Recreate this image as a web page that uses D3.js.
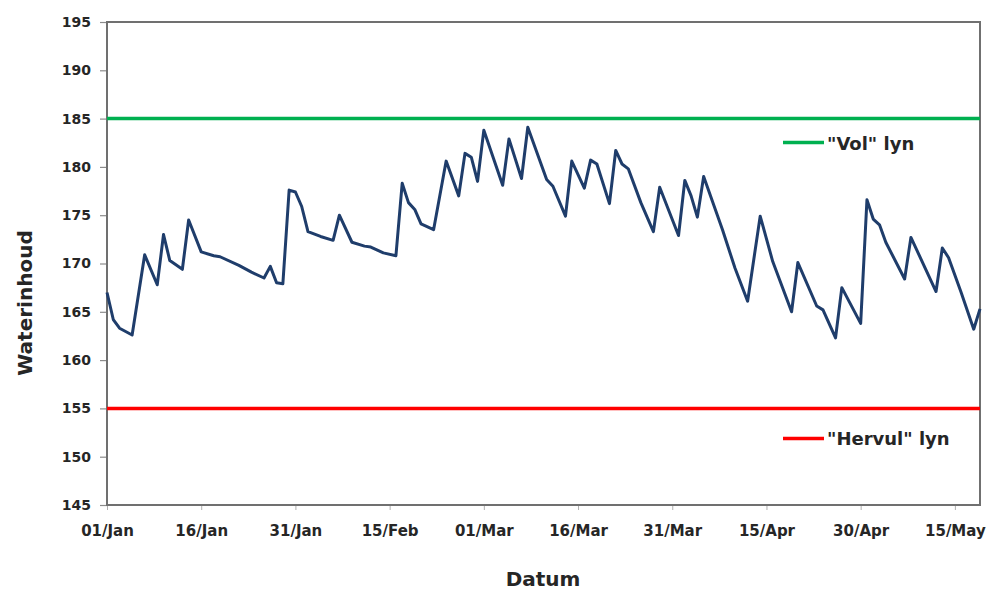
<!DOCTYPE html>
<html>
<head>
<meta charset="utf-8">
<script src="https://cdn.jsdelivr.net/npm/d3@7"></script>
<style>
  html, body { margin: 0; padding: 0; background: #fff; }
  svg text { font-family: "DejaVu Sans", "Liberation Sans", sans-serif; font-weight: bold; fill: #262626; }
</style>
</head>
<body>
<svg id="chart" width="987" height="592"></svg>
<script>
// ---- data ----
const dates = [
  "2012-01-01","2012-01-02","2012-01-03","2012-01-05","2012-01-07","2012-01-09","2012-01-10","2012-01-11",
  "2012-01-13","2012-01-14","2012-01-16","2012-01-18","2012-01-19","2012-01-22","2012-01-24","2012-01-26",
  "2012-01-27","2012-01-28","2012-01-29","2012-01-30","2012-01-31","2012-02-01","2012-02-02","2012-02-04",
  "2012-02-06","2012-02-07","2012-02-09","2012-02-11","2012-02-12","2012-02-14","2012-02-16","2012-02-17",
  "2012-02-18","2012-02-19","2012-02-20","2012-02-22","2012-02-24","2012-02-26","2012-02-27","2012-02-28",
  "2012-02-29","2012-03-01","2012-03-04","2012-03-05","2012-03-07","2012-03-08","2012-03-11","2012-03-12",
  "2012-03-14","2012-03-15","2012-03-17","2012-03-18","2012-03-19","2012-03-21","2012-03-22","2012-03-23",
  "2012-03-24","2012-03-26","2012-03-28","2012-03-29","2012-04-01","2012-04-02","2012-04-03","2012-04-04",
  "2012-04-05","2012-04-08","2012-04-10","2012-04-12","2012-04-14","2012-04-16","2012-04-19","2012-04-20",
  "2012-04-23","2012-04-24","2012-04-26","2012-04-27","2012-04-30","2012-05-01","2012-05-02","2012-05-03",
  "2012-05-04","2012-05-07","2012-05-08","2012-05-12","2012-05-13","2012-05-14","2012-05-16","2012-05-18",
  "2012-05-19"
];
const values = [
  167.0,164.2,163.3,162.6,170.9,167.8,173.0,170.3,
  169.4,174.5,171.2,170.8,170.7,169.8,169.1,168.5,
  169.7,168.0,167.9,177.6,177.4,175.9,173.3,172.8,
  172.4,175.0,172.2,171.8,171.7,171.1,170.8,178.3,
  176.3,175.6,174.1,173.5,180.6,177.0,181.4,181.0,
  178.5,183.8,178.1,182.9,178.8,184.1,178.7,178.0,
  174.9,180.6,177.8,180.7,180.3,176.2,181.7,180.3,
  179.8,176.3,173.3,177.9,172.9,178.6,177.0,174.8,
  179.0,173.5,169.5,166.1,174.9,170.2,165.0,170.1,
  165.6,165.2,162.3,167.5,163.8,176.6,174.6,174.0,
  172.2,168.4,172.7,167.1,171.6,170.6,167.0,163.2,
  165.3
];
const refNames = ["\"Vol\" lyn", "\"Hervul\" lyn"];
const refValues = [185, 155];
const refColors = ["#00b050", "#ff0000"];
const yTicks = [145, 150, 155, 160, 165, 170, 175, 180, 185, 190, 195];
const xTickLabels = ["01/Jan","16/Jan","31/Jan","15/Feb","01/Mar","16/Mar","31/Mar","15/Apr","30/Apr","15/May"];
const xStart = "2012-01-01", xEnd = "2012-05-19";
const xTitle = "Datum", yTitle = "Waterinhoud";

// ---- layout ----
const svg = d3.select("#chart");
const m = { left: 107, right: 980, top: 22, bottom: 505 };
const parse = d3.utcParse("%Y-%m-%d");
const x = d3.scaleUtc().domain([parse(xStart), parse(xEnd)]).range([m.left, m.right]);
const y = d3.scaleLinear().domain([145, 195]).range([m.bottom, m.top]);
const tickDates = xTickLabels.map((_, i) => d3.utcDay.offset(parse(xStart), i * 15));

const data = dates.map((d, i) => ({ date: parse(d), value: values[i] }));

// y axis
const yAxis = svg.append("g").attr("transform", `translate(${m.left},0)`)
  .call(d3.axisLeft(y).tickValues(yTicks).tickSize(7).tickPadding(9).tickFormat(d3.format("d")));
yAxis.select(".domain").remove();
yAxis.selectAll("line").attr("stroke", "#8c8c8c").attr("stroke-width", 1.2);
yAxis.selectAll("text").style("font-size", "14px").attr("fill", "#262626");

// x axis
const xAxis = svg.append("g").attr("transform", `translate(0,${m.bottom})`)
  .call(d3.axisBottom(x).tickValues(tickDates).tickSize(5).tickPadding(15)
    .tickFormat((d, i) => xTickLabels[i]));
xAxis.select(".domain").remove();
xAxis.selectAll("line").attr("stroke", "#b0b0b0").attr("stroke-width", 1);
xAxis.selectAll("text").style("font-size", "15px").attr("fill", "#262626");

// frame
svg.append("rect")
  .attr("x", m.left).attr("y", m.top)
  .attr("width", m.right - m.left).attr("height", m.bottom - m.top)
  .attr("fill", "none").attr("stroke", "#707070").attr("stroke-width", 2);

// reference lines
refValues.forEach((v, i) => {
  svg.append("line")
    .attr("x1", m.left).attr("x2", m.right)
    .attr("y1", y(v)).attr("y2", y(v))
    .attr("stroke", refColors[i]).attr("stroke-width", 3.5);
});

// data line
svg.append("path").datum(data)
  .attr("fill", "none").attr("stroke", "#1f3d6b").attr("stroke-width", 3)
  .attr("stroke-linejoin", "round")
  .attr("d", d3.line().x(d => x(d.date)).y(d => y(d.value)));

// legend-style labels
const legendY = [y(185) + 24, y(155) + 30];
refNames.forEach((name, i) => {
  svg.append("line")
    .attr("x1", 783).attr("x2", 824)
    .attr("y1", legendY[i]).attr("y2", legendY[i])
    .attr("stroke", refColors[i]).attr("stroke-width", 3.5);
  svg.append("text")
    .attr("x", 827).attr("y", legendY[i] + 7)
    .style("font-size", "18px").attr("fill", "#262626")
    .text(name);
});

// axis titles
svg.append("text")
  .attr("x", 543).attr("y", 586)
  .attr("text-anchor", "middle").style("font-size", "20px")
  .text(xTitle);
svg.append("text")
  .attr("transform", `translate(32,303) rotate(-90)`)
  .attr("text-anchor", "middle").style("font-size", "20px")
  .text(yTitle);
</script>
</body>
</html>
